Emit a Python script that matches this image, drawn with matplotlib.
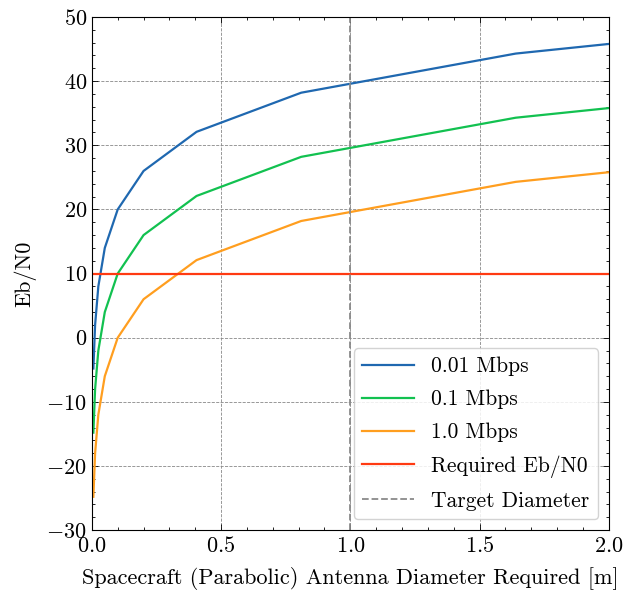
import numpy as np
import matplotlib
matplotlib.use("Agg")
import matplotlib.pyplot as plt

# Data
diameter = [0.0058, 0.0125, 0.025, 0.05, 0.1, 0.2, 0.405, 0.81, 1.64, 2.0]
ebn0_001 = [-4.8, 2.0, 8.0, 14.0, 20.0, 26.0, 32.1, 38.2, 44.3, 45.8]
ebn0_01 = [-14.8, -8.0, -2.0, 4.0, 10.0, 16.0, 22.1, 28.2, 34.3, 35.8]
ebn0_1 = [-24.8, -18.0, -12.0, -6.0, 0.0, 6.0, 12.1, 18.2, 24.3, 25.8]
required_ebn0 = 10.0
target_diameter = 1.0
labels = ["0.01 Mbps", "0.1 Mbps", "1.0 Mbps", "Required Eb/N0", "Target Diameter"]

plt.rcParams.update({
    "font.family": "serif",
    "font.serif": ["cmr10"],
    "mathtext.fontset": "cm",
    "axes.formatter.use_mathtext": True,
    "axes.unicode_minus": True,
    "font.size": 16,
})

fig = plt.figure(figsize=(6.25, 5.97), dpi=100)
ax = fig.add_axes([0.147, 0.112, 0.827, 0.8595])

ax.plot(diameter, ebn0_001, color="#1F68B0", lw=1.6, label=labels[0])
ax.plot(diameter, ebn0_01, color="#12C150", lw=1.6, label=labels[1])
ax.plot(diameter, ebn0_1, color="#FF9E1F", lw=1.6, label=labels[2])
ax.axhline(required_ebn0, color="#FF3A12", lw=1.6, label=labels[3])
ax.axvline(target_diameter, color="#8a8a8a", lw=1.3, ls="--", label=labels[4])

ax.set_xlim(0, 2.0)
ax.set_ylim(-30, 50)
ax.set_xticks(np.arange(0, 2.01, 0.5))
ax.set_yticks(np.arange(-30, 51, 10))
ax.xaxis.set_minor_locator(matplotlib.ticker.MultipleLocator(0.1))
ax.yaxis.set_minor_locator(matplotlib.ticker.MultipleLocator(2))
ax.xaxis.set_major_formatter(matplotlib.ticker.FormatStrFormatter("$%.1f$"))
ax.yaxis.set_major_formatter(matplotlib.ticker.FuncFormatter(lambda v, p: "$%d$" % v))
ax.tick_params(which="both", direction="in", top=True, right=True, labelsize=16)
ax.tick_params(axis="x", which="major", pad=4.5)
ax.tick_params(which="major", length=4.5, width=0.6)
ax.tick_params(which="minor", length=2.3, width=0.6)
for s in ax.spines.values():
    s.set_linewidth(0.8)

ax.grid(True, which="major", ls="--", color="#888888", lw=0.6)
ax.set_axisbelow(True)

ax.set_xlabel("Spacecraft (Parabolic) Antenna Diameter Required [m]", fontsize=16, labelpad=8)
ax.set_ylabel("Eb/N0", fontsize=16, labelpad=7)

leg = ax.legend(loc="lower right", fontsize=15.5, handlelength=2.4, framealpha=0.85,
                labelspacing=0.62, edgecolor="#cccccc", fancybox=True, borderaxespad=0.5)

fig.savefig("out.png", dpi=100)
